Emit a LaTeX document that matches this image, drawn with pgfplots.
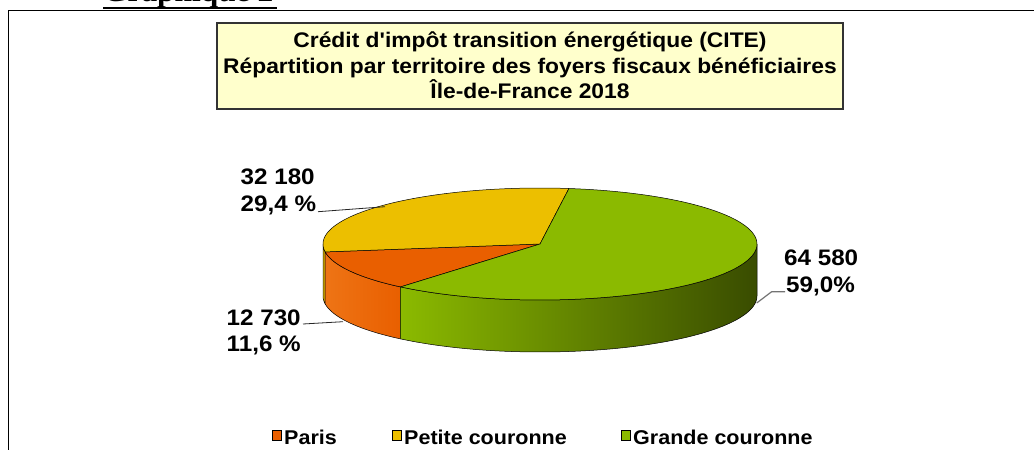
\documentclass[border=0pt]{standalone}
\usepackage{xfp}
\usepackage{fontspec}
\setmainfont{Liberation Sans}[FakeStretch=1.08]
\newfontfamily\plainsans{Liberation Sans}[FakeStretch=1.08]
\newfontfamily\headfont{Liberation Serif}[FakeStretch=1.05]
\usepackage{pgfplots}
\pgfplotsset{compat=1.18}

\definecolor{cParis}{HTML}{E95F00}
\definecolor{cParisL}{HTML}{EE7415}
\definecolor{cPetite}{HTML}{ECBF00}
\definecolor{cGrande}{HTML}{8BBA00}
\definecolor{cGrandeM}{HTML}{5E8200}
\definecolor{cGrandeD}{HTML}{394C00}
\definecolor{boxfill}{HTML}{FFFFCC}

% data: foyers fiscaux beneficiaires
\def\vParis{12730}
\def\vPetite{32180}
\def\vGrande{64580}
\edef\tot{\fpeval{\vParis+\vPetite+\vGrande}}
\edef\dParis{\fpeval{round(360*\vParis/\tot,3)}}
\edef\dPetite{\fpeval{round(360*\vPetite/\tot,3)}}
\def\aStart{230}
\edef\aOne{\fpeval{round(\aStart-\dParis,3)}}
\edef\aTwo{\fpeval{round(\aOne-\dPetite,3)}}
\edef\aEnd{\fpeval{\aStart-360}}

\begin{document}
\begin{tikzpicture}
\useasboundingbox (0,0) rectangle (1034bp,450bp);
\clip (0,0) rectangle (1034bp,450bp);
\begin{axis}[at={(0,0)}, anchor=south west, scale only axis,
  width=1034bp, height=450bp, xmin=0, xmax=1034, ymin=0, ymax=450,
  axis lines=none, clip=false,
  declare function={
    sth(\x,\y,\z)=(\x<1)*(\y+\x*(\z-\y)) + (\x>=1)*(\x<2)*\z + (\x>=2)*(\x<3)*(\z-(\x-2)*(\z-\y)) + (\x>=3)*\y;
    sh(\x)=(\x>=1)*(\x<2)*(\x-1) + (\x>=2)*(\x<3) + (\x>=3)*(4-\x);
    tr(\x)=(\x<1)*\x + (\x>=1)*(\x<2) + (\x>=2)*(3-\x);
    tth(\x,\y,\z)=(\x<1)*\y + (\x>=1)*(\x<2)*(\y+(\x-1)*(\z-\y)) + (\x>=2)*\z;
  }]

% frame and header
\draw[line width=1.6bp] (8.5,-5) -- (8.5,439.5) -- (1040,439.5);
\node[anchor=base west, inner sep=0pt, font=\headfont\bfseries\fontsize{30}{30}\selectfont] at (103,448) {Graphique 2};
\fill (102.7,440.8) rectangle (276.7,443.3);

% title box
\draw[draw=black!80, fill=boxfill, line width=1.2bp] (217,341) rectangle (843,427);
\begin{scope}[every node/.style={anchor=base, inner sep=0pt, font=\plainsans\bfseries\fontsize{21.2}{25}\selectfont}]
\node at (530,402) {Crédit d'impôt transition énergétique (CITE)};
\node at (530,377) {Répartition par territoire des foyers fiscaux bénéficiaires};
\node at (530,352) {Île-de-France 2018};
\end{scope}

% pie sides
\addplot[fill=cPetite, draw=black, line width=0.5bp, domain=0:4, samples=201, variable=\t]
  ({540+217*cos(sth(\t,180,\aOne))},{206+56*sin(sth(\t,180,\aOne))-52*sh(\t)});
\addplot[left color=cParisL, right color=cParis, draw=black, line width=0.5bp, domain=0:4, samples=401, variable=\t]
  ({540+217*cos(sth(\t,\aOne,\aStart))},{206+56*sin(sth(\t,\aOne,\aStart))-52*sh(\t)});
\addplot[left color=cGrande, middle color=cGrandeM, right color=cGrandeD, draw=black, line width=0.5bp, domain=0:4, samples=401, variable=\t]
  ({540+217*cos(sth(\t,\aStart,360))},{206+56*sin(sth(\t,\aStart,360))-52*sh(\t)});

% pie tops
\addplot[fill=cParis, draw=black, line width=0.5bp, domain=0:3, samples=301, variable=\t]
  ({540+217*tr(\t)*cos(tth(\t,\aOne,\aStart))},{206+56*tr(\t)*sin(tth(\t,\aOne,\aStart))});
\addplot[fill=cPetite, draw=black, line width=0.5bp, domain=0:3, samples=301, variable=\t]
  ({540+217*tr(\t)*cos(tth(\t,\aTwo,\aOne))},{206+56*tr(\t)*sin(tth(\t,\aTwo,\aOne))});
\addplot[fill=cGrande, draw=black, line width=0.5bp, domain=0:3, samples=301, variable=\t]
  ({540+217*tr(\t)*cos(tth(\t,\aEnd,\aTwo))},{206+56*tr(\t)*sin(tth(\t,\aEnd,\aTwo))});

% leader lines
\draw[black!85, line width=0.8bp] (318,238.3) -- (385,243.3);
\draw[black!85, line width=0.8bp] (303,126) -- (343,128.3);
\draw[black!55, line width=1.2bp] (756.7,147) -- (771.7,158.3) -- (785,158.3);

% data labels
\begin{scope}[every node/.style={anchor=base west, inner sep=0pt, font=\bfseries\fontsize{22.5}{27}\selectfont}]
\node at (240.5,265.7) {32 180};
\node at (240.5,238.3) {29,4 \%};
\node at (226.5,125) {12 730};
\node at (226.5,98.3) {11,6 \%};
\node at (784,185) {64 580};
\node at (786,157.3) {59,0\%};
\end{scope}

% legend
\begin{scope}[every node/.style={anchor=base west, inner sep=0pt, font=\bfseries\fontsize{20}{24}\selectfont}]
\filldraw[fill=cParis, draw=black, line width=1bp] (272,10) rectangle (281,19);
\node at (284,6) {Paris};
\filldraw[fill=cPetite, draw=black, line width=1bp] (392,10) rectangle (401,19);
\node at (404,6) {Petite couronne};
\filldraw[fill=cGrande, draw=black, line width=1bp] (621,10) rectangle (630,19);
\node at (633,6) {Grande couronne};
\end{scope}
\end{axis}
\end{tikzpicture}
\end{document}
